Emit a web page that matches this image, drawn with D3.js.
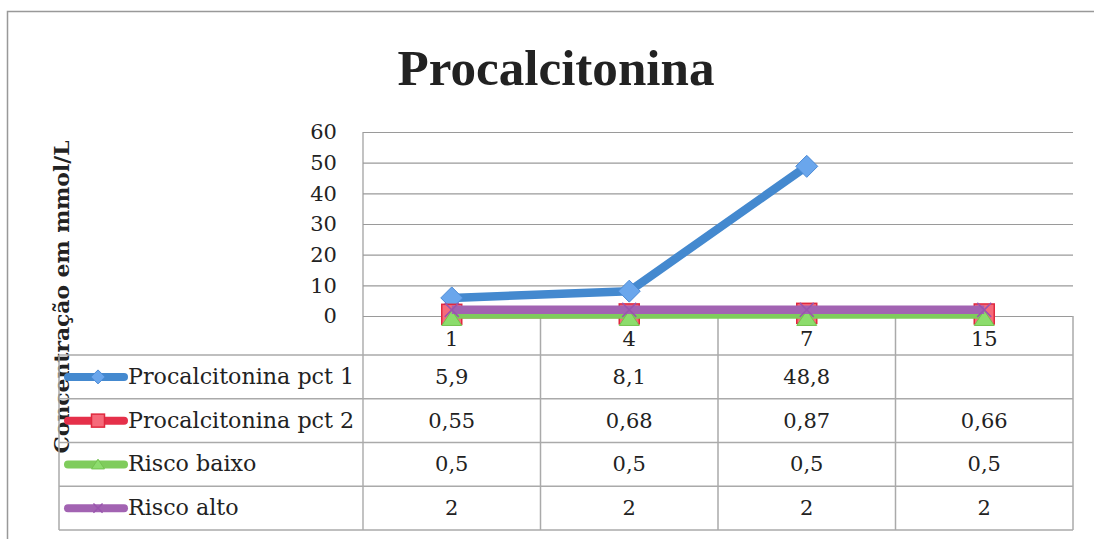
<!DOCTYPE html>
<html>
<head>
<meta charset="utf-8">
<script src="https://cdn.jsdelivr.net/npm/d3@7"></script>
<style>
  body { margin: 0; background: #fff; }
  text { font-family: "DejaVu Serif", serif; fill: #222; }
</style>
</head>
<body>
<svg id="chart"></svg>
<script>
const categories = ["1", "4", "7", "15"];
const pct1 = [5.9, 8.1, 48.8, null];
const pct2 = [0.55, 0.68, 0.87, 0.66];
const riscoBaixo = [0.5, 0.5, 0.5, 0.5];
const riscoAlto = [2, 2, 2, 2];
const seriesNames = ["Procalcitonina pct 1", "Procalcitonina pct 2", "Risco baixo", "Risco alto"];
const yTicks = [0, 10, 20, 30, 40, 50, 60];

const seriesOptions = [
    { name: seriesNames[0], values: pct1, line: "#4489cf", fill: "#6aa6ec", stroke: "#4a8ad6", marker: "diamond" },
    { name: seriesNames[1], values: pct2, line: "#e5304a", fill: "#f66a7a", stroke: "#e0283e", marker: "square" },
    { name: seriesNames[2], values: riscoBaixo, line: "#7fcc5c", fill: "#8cdc6c", stroke: "#74c250", marker: "triangle" },
    { name: seriesNames[3], values: riscoAlto, line: "#a263b2", fill: "#a263b2", stroke: "#9a55ae", marker: "x" },
];

const WIDTH = 1094, HEIGHT = 539;
const PLOT = { left: 363, right: 1073, top: 132, bottom: 316 };
const TABLE_LEFT = 59;
const ROW_H = 43.75;
const HEADER_BOTTOM = 355;
const GRID = "#9a9a9a";

const fmt = (v) => v == null ? "" : String(v).replace(".", ",");

const svg = d3.select("#chart").attr("width", WIDTH).attr("height", HEIGHT);

// outer frame
svg.append("path")
    .attr("d", `M7.5,${HEIGHT} V11.5 H${WIDTH}`)
    .attr("fill", "none").attr("stroke", "#999").attr("stroke-width", 1.5);

svg.append("text")
    .attr("x", 556).attr("y", 85)
    .attr("text-anchor", "middle")
    .style("font-family", "'Liberation Serif', serif")
    .attr("font-weight", "bold").attr("font-size", 50)
    .attr("textLength", 317).attr("lengthAdjust", "spacingAndGlyphs")
    .text("Procalcitonina");

svg.append("text")
    .attr("transform", "translate(69,297) rotate(-90)")
    .attr("text-anchor", "middle")
    .attr("font-weight", "bold").attr("font-size", 19.5)
    .attr("textLength", 313).attr("lengthAdjust", "spacingAndGlyphs")
    .text("Concentração em mmol/L");

const xScale = d3.scaleBand().domain(categories).range([PLOT.left, PLOT.right]);
const xc = (c) => xScale(c) + xScale.bandwidth() / 2;
const yScale = d3.scaleLinear().domain([0, 60]).range([PLOT.bottom, PLOT.top]);

// y grid + labels
const yAxis = d3.axisLeft(yScale).tickValues(yTicks).tickSize(-(PLOT.right - PLOT.left)).tickPadding(24);
const yG = svg.append("g").attr("transform", `translate(${PLOT.left},0)`).call(yAxis);
yG.select(".domain").remove();
yG.selectAll(".tick line").attr("stroke", GRID).attr("stroke-width", 1.2);
yG.selectAll(".tick text").attr("font-family", null).attr("font-size", 21).attr("fill", "#222").attr("dx", "-0.1em");

// plot area left edge
svg.append("line")
    .attr("x1", PLOT.left).attr("x2", PLOT.left)
    .attr("y1", PLOT.top).attr("y2", HEADER_BOTTOM + ROW_H * 4)
    .attr("stroke", GRID).attr("stroke-width", 1.2);

// data table
const tbl = svg.append("g").attr("stroke", "#aaa").attr("stroke-width", 1.5);
tbl.append("line").attr("x1", PLOT.right).attr("x2", PLOT.right).attr("y1", PLOT.bottom).attr("y2", HEADER_BOTTOM + ROW_H * 4);
tbl.selectAll("vline").data(categories.slice(1)).enter().append("line")
    .attr("x1", (d) => xScale(d)).attr("x2", (d) => xScale(d))
    .attr("y1", PLOT.bottom).attr("y2", HEADER_BOTTOM + ROW_H * 4);
tbl.selectAll("hline").data(d3.range(5)).enter().append("line")
    .attr("x1", TABLE_LEFT).attr("x2", PLOT.right)
    .attr("y1", (d) => HEADER_BOTTOM + d * ROW_H).attr("y2", (d) => HEADER_BOTTOM + d * ROW_H);
tbl.append("line").attr("x1", TABLE_LEFT).attr("x2", TABLE_LEFT).attr("y1", HEADER_BOTTOM).attr("y2", HEADER_BOTTOM + ROW_H * 4);

svg.selectAll("cat").data(categories).enter().append("text")
    .attr("x", (d) => xc(d)).attr("y", 346)
    .attr("text-anchor", "middle").attr("font-size", 21)
    .text((d) => d);

// series lines + markers
const line = d3.line()
    .defined((d) => d.v != null)
    .x((d) => xc(d.c)).y((d) => yScale(d.v));

function marker(g, type, s, size) {
    const h = size / 2;
    if (type === "diamond") {
        g.append("path").attr("d", `M0,${-h} L${h},0 L0,${h} L${-h},0Z`)
            .attr("fill", s.fill).attr("stroke", s.stroke).attr("stroke-width", 1);
    } else if (type === "square") {
        g.append("rect").attr("x", -h).attr("y", -h).attr("width", size).attr("height", size)
            .attr("fill", s.fill).attr("stroke", s.stroke).attr("stroke-width", 1.5);
    } else if (type === "triangle") {
        g.append("path").attr("d", `M0,${-h * 0.8} L${h},${h * 0.7} L${-h},${h * 0.7}Z`)
            .attr("fill", s.fill).attr("stroke", s.stroke).attr("stroke-width", 1);
    } else {
        g.append("path").attr("d", `M${-h * 0.7},${-h * 0.7} L${h * 0.7},${h * 0.7} M${h * 0.7},${-h * 0.7} L${-h * 0.7},${h * 0.7}`)
            .attr("stroke", s.stroke).attr("stroke-width", 1.5);
    }
}

seriesOptions.forEach((s) => {
    const pts = categories.map((c, i) => ({ c: c, v: s.values[i] }));
    svg.append("path")
        .datum(pts)
        .attr("d", line)
        .attr("fill", "none")
        .attr("stroke", s.line)
        .attr("stroke-width", 8.5)
        .attr("stroke-linejoin", "round");
    svg.selectAll(null).data(pts.filter((d) => d.v != null)).enter().append("g")
        .attr("transform", (d) => `translate(${xc(d.c)},${yScale(d.v) + (s.marker === "triangle" ? 4 : 0)})`)
        .each(function () { marker(d3.select(this), s.marker, s, s.marker === "diamond" ? 22 : 20); });
});

// table rows: legend keys, names, values
seriesOptions.forEach((s, r) => {
    const cy = HEADER_BOTTOM + ROW_H * r + ROW_H / 2;
    svg.append("line")
        .attr("x1", 68).attr("x2", 124).attr("y1", cy).attr("y2", cy)
        .attr("stroke", s.line).attr("stroke-width", 8).attr("stroke-linecap", "round");
    const k = svg.append("g").attr("transform", `translate(98,${cy})`);
    marker(k, s.marker, s, s.marker === "diamond" ? 14 : 13);
    svg.append("text")
        .attr("x", 128).attr("y", cy + 7)
        .attr("font-size", 22.2)
        .text(s.name);
    svg.selectAll(null).data(categories).enter().append("text")
        .attr("x", (c) => xc(c)).attr("y", cy + 7)
        .attr("text-anchor", "middle").attr("font-size", 21)
        .text((c, i) => fmt(s.values[i]));
});
</script>
</body>
</html>
